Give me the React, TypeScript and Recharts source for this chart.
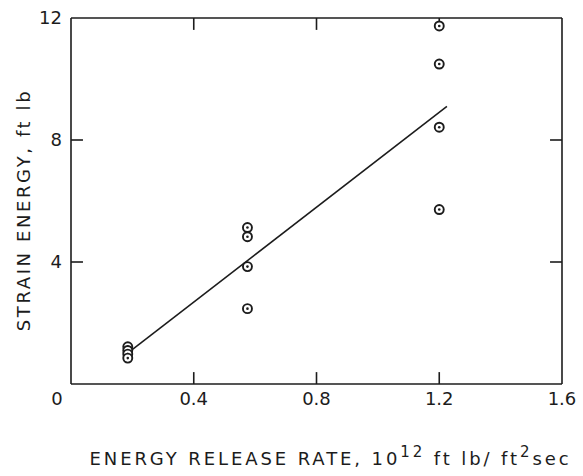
import React from 'react';
import { ScatterChart, Scatter, XAxis, YAxis, ReferenceLine } from 'recharts';

const xTicks = [0, 0.4, 0.8, 1.2, 1.6];
const yTicks = [0, 4, 8, 12];
const releaseRate = [0.185, 0.185, 0.185, 0.185, 0.575, 0.575, 0.575, 0.575, 1.2, 1.2, 1.2, 1.2];
const strainEnergy = [1.22, 1.1, 0.98, 0.85, 5.13, 4.83, 3.85, 2.47, 11.74, 10.49, 8.42, 5.72];
const fitRate = [0.19, 1.225];
const fitEnergy = [1.05, 9.1];

const points = releaseRate.map((x, i) => ({ x, y: strainEnergy[i] }));
const fit = fitRate.map((x, i) => ({ x, y: fitEnergy[i] }));

const INK = '#1c1c1c';
const FONT = '"DejaVu Sans", sans-serif';
// inward tick length, in data units (~12px)
const TICK_X = 0.039;
const TICK_Y = 0.39;

const Marker: React.FC<any> = ({ cx, cy }) => (
    <g>
        <circle cx={cx} cy={cy} r={4.5} fill="#fff" stroke={INK} strokeWidth={1.9} />
        <circle cx={cx} cy={cy} r={1.3} fill={INK} />
    </g>
);

const BottomTick: React.FC<any> = ({ x, y, payload }) => {
    const v = payload.value;
    return (
        <text x={v === 0 ? x - 14 : x} y={y + 21} textAnchor="middle" fontSize={18} fontFamily={FONT} fill={INK}>
            {String(v)}
        </text>
    );
};

const LeftTick: React.FC<any> = ({ x, y, payload }) => {
    const v = payload.value;
    if (v === 0) return <g />;
    return (
        <text x={x - 9} y={y + 6} textAnchor="end" fontSize={18} fontFamily={FONT} fill={INK}>
            {String(v)}
        </text>
    );
};

const XTitle: React.FC<any> = ({ viewBox }) => {
    const cx = viewBox.x + viewBox.width / 2 + 14;
    return (
        <text x={cx} y={viewBox.y + 81} textAnchor="middle" fontSize={18} fontFamily={FONT} fill={INK} letterSpacing={2.9}>
            ENERGY RELEASE RATE, 10
            <tspan dy={-8} fontSize={15}>12</tspan>
            <tspan dy={8}> ft lb/ ft</tspan>
            <tspan dy={-8} fontSize={15}>2</tspan>
            <tspan dy={8}>sec</tspan>
        </text>
    );
};

const YTitle: React.FC<any> = ({ viewBox }) => {
    const cy = viewBox.y + viewBox.height / 2 + 9;
    const cx = viewBox.x - 40;
    return (
        <text x={cx} y={cy} transform={`rotate(-90 ${cx} ${cy})`} textAnchor="middle" fontSize={18} fontFamily={FONT} fill={INK} letterSpacing={2.6}>
            STRAIN ENERGY, ft lb
        </text>
    );
};

const axisLine = { stroke: INK, strokeWidth: 1.6 };
const innerX = xTicks.filter((t) => t > 0 && t < 1.6);
const innerY = yTicks.filter((t) => t > 0 && t < 12);

export default function App() {
    return (
        <div style={{ position: 'absolute', left: 0, top: 0, width: 583, height: 476, background: '#fff' }}>
            <ScatterChart width={583} height={476} margin={{ top: 17, right: 20, left: 70, bottom: 91 }}>
                <XAxis xAxisId="b" dataKey="x" type="number" domain={[0, 1.6]} ticks={xTicks} orientation="bottom"
                    height={1} tickSize={0} tickMargin={0} tickLine={false} axisLine={axisLine}
                    tick={<BottomTick />} label={<XTitle />} interval={0} />
                <XAxis xAxisId="t" dataKey="x" type="number" domain={[0, 1.6]} orientation="top"
                    height={1} tick={false} tickLine={false} axisLine={axisLine} />
                <YAxis yAxisId="l" dataKey="y" type="number" domain={[0, 12]} ticks={yTicks} orientation="left"
                    width={1} tickSize={0} tickMargin={0} tickLine={false} axisLine={axisLine}
                    tick={<LeftTick />} label={<YTitle />} interval={0} />
                <YAxis yAxisId="r" dataKey="y" type="number" domain={[0, 12]} orientation="right"
                    width={1} tick={false} tickLine={false} axisLine={axisLine} />
                {innerX.map((t) => (
                    <ReferenceLine key={`b${t}`} xAxisId="b" yAxisId="l" ifOverflow="visible"
                        segment={[{ x: t, y: 0 }, { x: t, y: TICK_Y }]} stroke={INK} strokeWidth={1.6} />
                ))}
                {innerX.map((t) => (
                    <ReferenceLine key={`t${t}`} xAxisId="b" yAxisId="l" ifOverflow="visible"
                        segment={[{ x: t, y: 12 }, { x: t, y: 12 - TICK_Y }]} stroke={INK} strokeWidth={1.6} />
                ))}
                {innerY.map((t) => (
                    <ReferenceLine key={`l${t}`} xAxisId="b" yAxisId="l" ifOverflow="visible"
                        segment={[{ x: 0, y: t }, { x: TICK_X, y: t }]} stroke={INK} strokeWidth={1.6} />
                ))}
                {innerY.map((t) => (
                    <ReferenceLine key={`r${t}`} xAxisId="b" yAxisId="l" ifOverflow="visible"
                        segment={[{ x: 1.6, y: t }, { x: 1.6 - TICK_X, y: t }]} stroke={INK} strokeWidth={1.6} />
                ))}
                <Scatter xAxisId="b" yAxisId="l" data={fit} line={{ stroke: INK, strokeWidth: 1.6 }}
                    shape={() => <g />} isAnimationActive={false} />
                <Scatter xAxisId="b" yAxisId="l" data={points} shape={<Marker />} isAnimationActive={false} />
            </ScatterChart>
        </div>
    );
}
